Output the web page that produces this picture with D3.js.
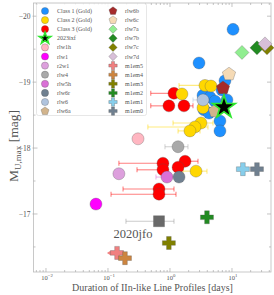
<!doctype html>
<html>
<head>
<script src="https://d3js.org/d3.v7.min.js"></script>
<style>
  body { margin: 0; background: #fff; }
  svg text { font-family: "Liberation Serif", "DejaVu Serif", serif; fill: #555; }
</style>
</head>
<body>
<svg id="chart" width="274" height="295"></svg>
<script>
// [days, mag, errLo, errHi]  (err = null when no bar)
const class1 = [
  [10.4, -19.80], [2.94, -19.29], [7.71, -19.02], [6.90, -18.88],
  [3.41, -18.80], [4.42, -18.77], [5.32, -18.71], [8.30, -18.73],
  [3.53, -18.58], [4.26, -18.53], [6.40, -18.41], [6.40, -18.26]
];
const class2 = [
  [1.56, -18.82, null, null], [3.67, -18.95, 1.40, 5.32], [4.59, -18.94, null, null],
  [3.41, -18.61, null, null], [3.16, -18.38, 1.12, 4.94], [2.53, -18.32, 0.44, 4.10],
  [2.10, -18.26, 1.35, 3.05], [2.63, -17.65, 1.62, 3.95]
];
const class3 = [
  [1.16, -18.83, 0.49, null], [0.96, -18.64, 0.49, null], [1.68, -18.64, null, 2.35],
  [0.77, -17.77, 0.150, null], [1.75, -17.80, null, 2.83], [1.35, -17.71, null, null],
  [0.77, -17.67, 0.294, null], [0.665, -17.38, 0.175, 1.16], [0.665, -17.30, 0.112, 1.25]
];
const sn2023ixf = [7.43, -18.62];
const sn2020jfo = [0.665, -16.89, 0.195, 1.16];

const modelNames = ["rlw1h", "rlw1", "r2w1", "rlw4", "rlw5h", "rlw6r", "rlw6", "rlw6a",
  "rlw6b", "rlw6c", "rlw7a", "rlw7b", "rlw7c", "rlw7d",
  "m1em5", "m1em4", "m1em3", "m1em2", "m1em1", "m1em0"];
const modelDays = [0.305, 0.064, 0.150, 1.35, 0.895, 1.40, 3.41, 5.32,
  7.16, 8.95, 14.5, 25.3, 36.7, 34.1,
  0.140, 0.188, 0.96, 3.95, 15.0, 25.3];
const modelMag = [-18.14, -17.15, -17.61, -18.02, -17.56, -17.56, -18.73, -18.56,
  -18.91, -19.12, -19.45, -19.52, -19.52, -19.58,
  -16.41, -16.33, -16.56, -16.95, -17.68, -17.68];
const modelErrLo = [null, null, null, 0.83, 0.594, null, 2.35, null,
  null, null, null, null, null, null,
  null, null, null, null, null, null];
const modelErrHi = [null, null, null, 1.95, null, null, null, null,
  null, null, null, null, null, null,
  null, null, null, null, null, null];
const upperLimit = { m1em5: 0.096 };

const xMajor = [0.01, 0.1, 1, 10];
const xMajorExp = ["\u22122", "\u22121", "0", "1"];
const yMajor = [-20, -19, -18, -17];
const yMinor = [-19.5, -18.5, -17.5, -16.5];

const style = {
  "Class 1 (Gold)": { shape: "circle", fill: "#1e90ff" },
  "Class 2 (Gold)": { shape: "circle", fill: "#ffd700" },
  "Class 3 (Gold)": { shape: "circle", fill: "#ff0000" },
  "2023ixf": { shape: "star", fill: "#000", stroke: "#2ee62e" },
  rlw1h: { shape: "circle", fill: "#ffb6c1" },
  rlw1: { shape: "circle", fill: "#ff00ff" },
  r2w1: { shape: "circle", fill: "#dda0dd" },
  rlw4: { shape: "circle", fill: "#a9a9a9" },
  rlw5h: { shape: "circle", fill: "#da70d6" },
  rlw6r: { shape: "circle", fill: "#708090" },
  rlw6: { shape: "circle", fill: "#b0c4de" },
  rlw6a: { shape: "pentagon", fill: "#d2b48c" },
  rlw6b: { shape: "pentagon", fill: "#a52a2a" },
  rlw6c: { shape: "pentagon", fill: "#f5dab5" },
  rlw7a: { shape: "diamond", fill: "#90ee90" },
  rlw7b: { shape: "diamond", fill: "#228b22" },
  rlw7c: { shape: "diamond", fill: "#808000" },
  rlw7d: { shape: "diamond", fill: "#d8bfd8" },
  m1em5: { shape: "plus", fill: "#f08080" },
  m1em4: { shape: "plus", fill: "#cd853f" },
  m1em3: { shape: "plus", fill: "#808000" },
  m1em2: { shape: "plus", fill: "#228b22" },
  m1em1: { shape: "plus", fill: "#87ceeb" },
  m1em0: { shape: "plus", fill: "#708090" },
  "2020jfo": { shape: "square", fill: "#696969" }
};
const legendCol1 = ["Class 1 (Gold)", "Class 2 (Gold)", "Class 3 (Gold)", "2023ixf",
  "rlw1h", "rlw1", "r2w1", "rlw4", "rlw5h", "rlw6r", "rlw6", "rlw6a"];
const legendCol2 = ["rlw6b", "rlw6c", "rlw7a", "rlw7b", "rlw7c", "rlw7d",
  "m1em5", "m1em4", "m1em3", "m1em2", "m1em1", "m1em0"];

const L = 33.5, R = 271, T = 3, B = 272;
const svg = d3.select("#chart");
const x = d3.scaleLog().domain([0.00629, 42.6]).range([L, R]);
const y = d3.scaleLinear().domain([-20.2, -16.12]).range([T, B]);

function shapePath(kind, r) {
  if (kind === "circle") return d3.symbol(d3.symbolCircle, Math.PI * r * r)();
  if (kind === "square") return `M${-r},${-r}H${r}V${r}H${-r}Z`;
  if (kind === "diamond") return `M0,${-r}L${r},0L0,${r}L${-r},0Z`;
  if (kind === "pentagon") {
    const pts = d3.range(5).map(k => {
      const a = -Math.PI / 2 + k * 2 * Math.PI / 5;
      return [r * Math.cos(a), r * Math.sin(a)];
    });
    return "M" + pts.join("L") + "Z";
  }
  if (kind === "plus") {
    const w = r * 0.36;
    return `M${-w},${-r}H${w}V${-w}H${r}V${w}H${w}V${r}H${-w}V${w}H${-r}V${-w}H${-w}Z`;
  }
  if (kind === "star") return d3.symbol(d3.symbolStar, r * r / 0.8908)();
}
const sizeOf = { circle: 6, square: 5.5, diamond: 7, pentagon: 7, plus: 6.5, star: 12 };
const legSize = { circle: 3.6, square: 3.2, diamond: 4.2, pentagon: 4.2, plus: 4.2, star: 6.2 };

// frame
svg.append("rect").attr("x", L).attr("y", T).attr("width", R - L).attr("height", B - T)
  .attr("fill", "none").attr("stroke", "#bbb").attr("stroke-width", 0.8);

// ticks (inward, mirrored)
const tickG = svg.append("g").attr("stroke", "#aaa").attr("stroke-width", 0.7);
const xMinor = x.ticks().filter(v => !xMajor.some(m => Math.abs(m - v) < 1e-9));
xMajor.forEach(v => {
  tickG.append("line").attr("x1", x(v)).attr("x2", x(v)).attr("y1", B).attr("y2", B - 4);
  tickG.append("line").attr("x1", x(v)).attr("x2", x(v)).attr("y1", T).attr("y2", T + 4);
});
xMinor.forEach(v => {
  tickG.append("line").attr("x1", x(v)).attr("x2", x(v)).attr("y1", B).attr("y2", B - 2);
  tickG.append("line").attr("x1", x(v)).attr("x2", x(v)).attr("y1", T).attr("y2", T + 2);
});
yMajor.forEach(v => {
  tickG.append("line").attr("x1", L - 1).attr("x2", L + 4).attr("y1", y(v)).attr("y2", y(v));
  tickG.append("line").attr("x1", R).attr("x2", R - 4).attr("y1", y(v)).attr("y2", y(v));
});
yMinor.forEach(v => {
  tickG.append("line").attr("x1", L).attr("x2", L + 2).attr("y1", y(v)).attr("y2", y(v));
  tickG.append("line").attr("x1", R).attr("x2", R - 2).attr("y1", y(v)).attr("y2", y(v));
});

// tick labels
yMajor.forEach(v => {
  svg.append("text").attr("x", L - 3).attr("y", y(v) + 2.6).attr("text-anchor", "end")
    .attr("font-size", 7.5).text("\u2212" + Math.abs(v));
});
xMajor.forEach((v, i) => {
  const t = svg.append("text").attr("x", x(v) + 1).attr("y", 280).attr("text-anchor", "middle")
    .attr("font-size", 6.5);
  t.append("tspan").text("10");
  t.append("tspan").attr("dy", -3).attr("font-size", 4.8).text(xMajorExp[i]);
});

// axis titles
svg.append("text").attr("x", 152.5).attr("y", 290.5).attr("text-anchor", "middle")
  .attr("font-size", 10).attr("fill", "#444").text("Duration of IIn-like Line Profiles [days]");
const yt = svg.append("text").attr("transform", "translate(18,146) rotate(-90)")
  .attr("text-anchor", "middle").attr("font-size", 13.5).attr("fill", "#444");
yt.append("tspan").text("M");
yt.append("tspan").attr("font-size", 9).attr("dy", 3).text("U,max");
yt.append("tspan").attr("dy", -3).text(" [mag]");

// error bars
const errG = svg.append("g").attr("stroke-width", 1.1).attr("stroke-opacity", 0.5);
function errBar(d, color) {
  const [days, mag, lo, hi] = d;
  if (lo == null && hi == null) return;
  const x0 = x(lo == null ? days : lo), x1 = x(hi == null ? days : hi), yy = y(mag);
  errG.append("line").attr("x1", x0).attr("x2", x1).attr("y1", yy).attr("y2", yy).attr("stroke", color);
  if (lo != null) errG.append("line").attr("x1", x0).attr("x2", x0).attr("y1", yy - 2.5).attr("y2", yy + 2.5).attr("stroke", color);
  if (hi != null) errG.append("line").attr("x1", x1).attr("x2", x1).attr("y1", yy - 2.5).attr("y2", yy + 2.5).attr("stroke", color);
}
class2.forEach(d => errBar(d, style["Class 2 (Gold)"].fill));
class3.forEach(d => errBar(d, style["Class 3 (Gold)"].fill));
modelNames.forEach((n, i) => errBar([modelDays[i], modelMag[i], modelErrLo[i], modelErrHi[i]], style[n].fill));
errBar(sn2020jfo, "#999");

// upper-limit arrow
Object.entries(upperLimit).forEach(([n, lim]) => {
  const i = modelNames.indexOf(n), yy = y(modelMag[i]), c = style[n].fill;
  svg.append("line").attr("x1", x(modelDays[i])).attr("x2", x(lim) + 3).attr("y1", yy).attr("y2", yy)
    .attr("stroke", c).attr("stroke-width", 1.1);
  svg.append("path").attr("d", `M${x(lim)},${yy}l4,-2.5v5Z`).attr("fill", c);
});

// markers
const markG = svg.append("g");
function marker(g, kind, cx, cy, r, fill, stroke, sw) {
  g.append("path").attr("d", shapePath(kind, r)).attr("transform", `translate(${cx},${cy})`)
    .attr("fill", fill).attr("stroke", stroke || "#555").attr("stroke-opacity", stroke ? 1 : 0.6)
    .attr("stroke-width", sw || 0.5);
}
class1.forEach(d => marker(markG, "circle", x(d[0]), y(d[1]), sizeOf.circle, style["Class 1 (Gold)"].fill));
class3.forEach(d => marker(markG, "circle", x(d[0]), y(d[1]), sizeOf.circle, style["Class 3 (Gold)"].fill));
class2.forEach(d => marker(markG, "circle", x(d[0]), y(d[1]), sizeOf.circle, style["Class 2 (Gold)"].fill));
modelNames.forEach((n, i) => {
  const s = style[n];
  marker(markG, s.shape, x(modelDays[i]), y(modelMag[i]), sizeOf[s.shape], s.fill);
});
marker(markG, "square", x(sn2020jfo[0]), y(sn2020jfo[1]), sizeOf.square, style["2020jfo"].fill);
marker(markG, "star", x(sn2023ixf[0]), y(sn2023ixf[1]), sizeOf.star, "#000", style["2023ixf"].stroke, 1.6);

svg.append("text").attr("x", 133).attr("y", 238).attr("text-anchor", "middle")
  .attr("font-size", 12.5).attr("fill", "#777").text("2020jfo");

// legend
const leg = svg.append("g");
leg.append("rect").attr("x", 36.5).attr("y", 3.5).attr("width", 110).attr("height", 112).attr("rx", 2)
  .attr("fill", "#fff").attr("fill-opacity", 0.85).attr("stroke", "#ddd").attr("stroke-width", 0.7);
[[legendCol1, 45, 57], [legendCol2, 113, 125]].forEach(([names, mx, tx]) => {
  names.forEach((n, i) => {
    const yy = 11 + i * 9.1, s = style[n];
    if (n === "2023ixf") marker(leg, "star", mx, yy, legSize.star, "#000", s.stroke, 1.5);
    else marker(leg, s.shape, mx, yy, legSize[s.shape], s.fill);
    leg.append("text").attr("x", tx).attr("y", yy + 2).attr("font-size", 6).text(n);
  });
});
</script>
</body>
</html>
